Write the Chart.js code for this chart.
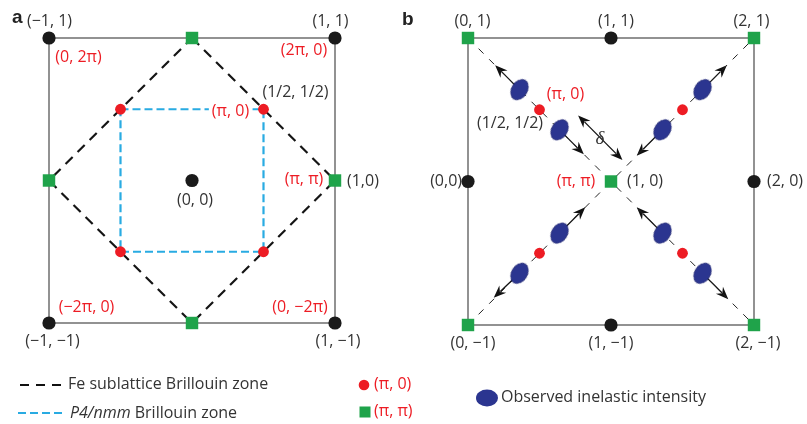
<!DOCTYPE html>
<html lang="en">
<head>
<meta charset="UTF-8">
<title>Brillouin zones</title>
<script src="https://cdn.jsdelivr.net/npm/chart.js"></script>
<style>
  body { margin: 0; background: #fff; }
  #wrap { position: relative; width: 807px; height: 424px; }
  canvas { position: absolute; left: 0; top: 0; }
</style>
</head>
<body>
<div id="wrap">
  <canvas id="chartA" width="807" height="424"></canvas>
  <canvas id="chartB" width="807" height="424"></canvas>
</div>
<script>
// ---------- panel a (reciprocal lattice units) ----------
const aBorder = [[-1,1],[1,1],[1,-1],[-1,-1],[-1,1]];
const aFeZone = [[0,1],[1,0],[0,-1],[-1,0],[0,1]];
const aP4Zone = [[-0.5,0.5],[0.5,0.5],[0.5,-0.5],[-0.5,-0.5],[-0.5,0.5]];
const aBlack = [[-1,1],[1,1],[0,0],[-1,-1],[1,-1]];
const aRed = [[-0.5,0.5],[0.5,0.5],[-0.5,-0.5],[0.5,-0.5]];
const aGreen = [[0,1],[1,0],[0,-1],[-1,0]];
const aLabelText = ['(−1, 1)','(1, 1)','(0, 2π)','(2π, 0)','(1/2, 1/2)','(π, 0)','(π, π)','(1,0)','(0, 0)','(−2π, 0)','(0, −2π)','(−1, −1)','(1, −1)'];
const aLabelAt = [[-1,1],[1,1],[-1,1],[1,1],[0.5,0.5],[0.5,0.5],[1,0],[1,0],[0,0],[-1,-1],[1,-1],[-1,-1],[1,-1]];
const aLabelRed = [0,0,1,1,0,1,1,0,0,1,1,0,0];

// ---------- panel b ----------
const bBorder = [[0,1],[2,1],[2,-1],[0,-1],[0,1]];
const bDiagTop = [[0,1],[1,0],[2,1]];
const bDiagBottom = [[0,-1],[1,0],[2,-1]];
const bBlack = [[1,1],[0,0],[2,0],[1,-1]];
const bRed = [[0.5,0.5],[1.5,0.5],[0.5,-0.5],[1.5,-0.5]];
const bGreen = [[0,1],[2,1],[1,0],[0,-1],[2,-1]];
const bSpots = [[0.36,0.64],[0.64,0.36],[1.36,0.36],[1.64,0.64],[0.36,-0.64],[0.64,-0.36],[1.36,-0.36],[1.64,-0.64]];
const bArrows = [
  [0.36,0.64, 0.19,0.81], [0.64,0.36, 0.81,0.19],
  [1.64,0.64, 1.81,0.81], [1.36,0.36, 1.18,0.18],
  [0.64,-0.36, 0.82,-0.18], [0.36,-0.64, 0.18,-0.81],
  [1.36,-0.36, 1.18,-0.18], [1.64,-0.64, 1.82,-0.82]
];
const bDelta = [0.77,0.46, 1.08,0.15];
const bLabelText = ['(0, 1)','(1, 1)','(2, 1)','(π, 0)','(1/2, 1/2)','(0,0)','(π, π)','(1, 0)','(2, 0)','(0, −1)','(1, −1)','(2, −1)'];
const bLabelAt = [[0,1],[1,1],[2,1],[0.5,0.5],[0.5,0.5],[0,0],[1,0],[1,0],[2,0],[0,-1],[1,-1],[2,-1]];
const bLabelRed = [0,0,0,1,0,0,1,0,0,0,0,0];

// layout: pixel offsets of each label from its lattice point (dx, dy, align, knockout)
const aLabelOffset = [[0.5,-17,'center'],[-4.5,-17,'center'],[29.5,19,'center'],[-31,12,'center'],[32,-17,'center'],[-33,2,'center',true],[-31,-1.5,'center'],[12,0.5,'left'],[3,19.5,'center'],[37.5,-16,'center'],[-35,-16,'center'],[3.5,18.7,'center'],[3,18,'center']];
const bLabelOffset = [[4.5,-17,'center'],[5,-17,'center'],[-2.5,-17,'center'],[26,-15,'center'],[-29.5,14,'center'],[-6,0,'right'],[-35,0,'center'],[16,0,'left'],[13,0,'left'],[5,18,'center'],[0,18,'center'],[4,18,'center']];

const DARK = '#333333', RED = '#ed1c24', GREEN = '#1fa34a', CYAN = '#29abe2', NAVY = '#2b3590', GREY = '#6f6f6f';
const FONT = "16px 'Open Sans'";
const pts = a => a.map(([x, y]) => ({x, y}));

// ellipse marker for the inelastic spots
const spot = document.createElement('canvas');
spot.width = 28; spot.height = 28;
(function () {
  const c = spot.getContext('2d');
  c.fillStyle = NAVY;
  c.strokeStyle = '#1c2270';
  c.lineWidth = 0.8;
  c.beginPath();
  c.ellipse(14, 14, 7.8, 11, 0, 0, Math.PI * 2);
  c.fill(); c.stroke();
})();

function line(data, color, width, dash, order) {
  return { data: pts(data), showLine: true, borderColor: color, borderWidth: width,
    borderDash: dash, pointRadius: 0, tension: 0, fill: false, clip: false, order: order };
}
function dots(data, color, radius, style, order) {
  return { data: pts(data), showLine: false, backgroundColor: color, borderWidth: 0,
    pointRadius: radius, pointStyle: style, clip: false, order: order };
}

function labelPlugin(texts, at, reds, offsets, extra) {
  return {
    id: 'labels',
    afterDatasetsDraw(chart) {
      const ctx = chart.ctx, xs = chart.scales.x, ys = chart.scales.y;
      ctx.save();
      ctx.font = FONT;
      ctx.textBaseline = 'middle';
      texts.forEach((t, i) => {
        const px = xs.getPixelForValue(at[i][0]) + offsets[i][0];
        const py = ys.getPixelForValue(at[i][1]) + offsets[i][1];
        ctx.textAlign = offsets[i][2];
        if (offsets[i][3]) {
          const w = ctx.measureText(t).width;
          ctx.fillStyle = '#fff';
          ctx.fillRect(px - w / 2 - 3, py - 6, w + 6, 12);
        }
        ctx.fillStyle = reds[i] ? RED : DARK;
        ctx.fillText(t, px, py);
      });
      ctx.restore();
      if (extra) extra(chart);
    }
  };
}

function arrowHead(ctx, x, y, ang) {
  ctx.save();
  ctx.translate(x, y);
  ctx.rotate(ang);
  ctx.beginPath();
  ctx.moveTo(0, 0);
  ctx.lineTo(-12.5, -5);
  ctx.lineTo(-8.5, 0);
  ctx.lineTo(-12.5, 5);
  ctx.closePath();
  ctx.fill();
  ctx.restore();
}

const arrowPlugin = {
  id: 'arrows',
  beforeDatasetsDraw(chart) {
    const ctx = chart.ctx, xs = chart.scales.x, ys = chart.scales.y;
    const P = (x, y) => [xs.getPixelForValue(x), ys.getPixelForValue(y)];
    ctx.save();
    ctx.strokeStyle = '#111'; ctx.fillStyle = '#111'; ctx.lineWidth = 1.3;
    const draw = (a, twoHeads) => {
      const [x1, y1] = P(a[0], a[1]), [x2, y2] = P(a[2], a[3]);
      const ang = Math.atan2(y2 - y1, x2 - x1);
      const sx = twoHeads ? x1 + 9 * Math.cos(ang) : x1, sy = twoHeads ? y1 + 9 * Math.sin(ang) : y1;
      ctx.beginPath();
      ctx.moveTo(sx, sy);
      ctx.lineTo(x2 - 9 * Math.cos(ang), y2 - 9 * Math.sin(ang));
      ctx.stroke();
      arrowHead(ctx, x2, y2, ang);
      if (twoHeads) arrowHead(ctx, x1, y1, ang + Math.PI);
    };
    bArrows.forEach(a => draw(a, false));
    draw(bDelta, true);
    ctx.restore();
  }
};

function commonOptions(xmin, xmax, pad) {
  return {
    responsive: false, animation: false, events: [],
    layout: { padding: pad },
    plugins: { legend: { display: false }, tooltip: { enabled: false } },
    scales: {
      x: { type: 'linear', min: xmin, max: xmax, display: false },
      y: { type: 'linear', min: -1, max: 1, display: false }
    }
  };
}

function drawLegend(chart) {
  const ctx = chart.ctx;
  ctx.save();
  ctx.font = "bold 19px 'Liberation Sans'";
  ctx.fillStyle = '#222';
  ctx.textBaseline = 'alphabetic';
  ctx.textAlign = 'left';
  ctx.fillText('a', 12, 23);
  ctx.fillText('b', 402, 25);

  ctx.lineWidth = 2.2;
  ctx.strokeStyle = '#111';
  ctx.setLineDash([9, 7]);
  ctx.beginPath(); ctx.moveTo(20, 385); ctx.lineTo(62, 385); ctx.stroke();
  ctx.strokeStyle = CYAN;
  ctx.setLineDash([8, 4]);
  ctx.beginPath(); ctx.moveTo(18, 413); ctx.lineTo(63, 413); ctx.stroke();
  ctx.setLineDash([]);

  ctx.font = FONT;
  ctx.textBaseline = 'middle';
  ctx.fillStyle = DARK;
  ctx.fillText('Fe sublattice Brillouin zone', 68, 384);
  ctx.font = "italic 16px 'Open Sans'";
  ctx.fillText('P4/nmm', 70, 413);
  const w = ctx.measureText('P4/nmm').width;
  ctx.font = FONT;
  ctx.fillText(' Brillouin zone', 70 + w, 413);

  ctx.fillStyle = RED;
  ctx.beginPath(); ctx.arc(364, 385, 5.3, 0, Math.PI * 2); ctx.fill();
  ctx.fillText('(π, 0)', 374, 384);
  ctx.fillStyle = GREEN;
  ctx.fillRect(359.5, 406.5, 11, 11);
  ctx.fillStyle = RED;
  ctx.fillText('(π, π)', 374, 411);

  ctx.fillStyle = NAVY;
  ctx.beginPath(); ctx.ellipse(487, 398, 11, 8.5, 0, 0, Math.PI * 2); ctx.fill();
  ctx.fillStyle = DARK;
  ctx.fillText('Observed inelastic intensity', 501, 397);
  ctx.restore();
}

new Chart(document.getElementById('chartA'), {
  type: 'scatter',
  data: { datasets: [
    dots(aBlack, '#1a1a1a', 6.6, 'circle', 1),
    dots(aRed, RED, 5.4, 'circle', 2),
    dots(aGreen, GREEN, 8.8, 'rect', 3),
    line(aP4Zone, CYAN, 2.2, [8, 4], 4),
    line(aFeZone, '#151515', 2.2, [10, 7], 5),
    line(aBorder, GREY, 1.5, [], 6)
  ]},
  options: commonOptions(-1, 1, { left: 49, right: 472, top: 38, bottom: 101 }),
  plugins: [labelPlugin(aLabelText, aLabelAt, aLabelRed, aLabelOffset, drawLegend)]
});

new Chart(document.getElementById('chartB'), {
  type: 'scatter',
  data: { datasets: [
    dots(bBlack, '#1a1a1a', 6.6, 'circle', 1),
    dots(bGreen, GREEN, 8.8, 'rect', 2),
    dots(bRed, RED, 5.4, 'circle', 3),
    { data: pts(bSpots), showLine: false, pointStyle: spot, pointRotation: 32, pointRadius: 12, clip: false, order: 4 },
    line(bDiagTop, '#222', 1, [7, 8], 5),
    line(bDiagBottom, '#222', 1, [7, 8], 6),
    line(bBorder, GREY, 1.5, [], 7)
  ]},
  options: commonOptions(0, 2, { left: 468, right: 53, top: 38, bottom: 99 }),
  plugins: [arrowPlugin, labelPlugin(bLabelText, bLabelAt, bLabelRed, bLabelOffset, chart => {
    const ctx = chart.ctx;
    ctx.save();
    ctx.font = "italic 19px 'Liberation Serif'";
    ctx.fillStyle = DARK;
    ctx.textAlign = 'center';
    ctx.textBaseline = 'middle';
    ctx.fillText('δ', chart.scales.x.getPixelForValue(1) - 11, chart.scales.y.getPixelForValue(0) - 43);
    ctx.restore();
  })]
});
</script>
</body>
</html>
